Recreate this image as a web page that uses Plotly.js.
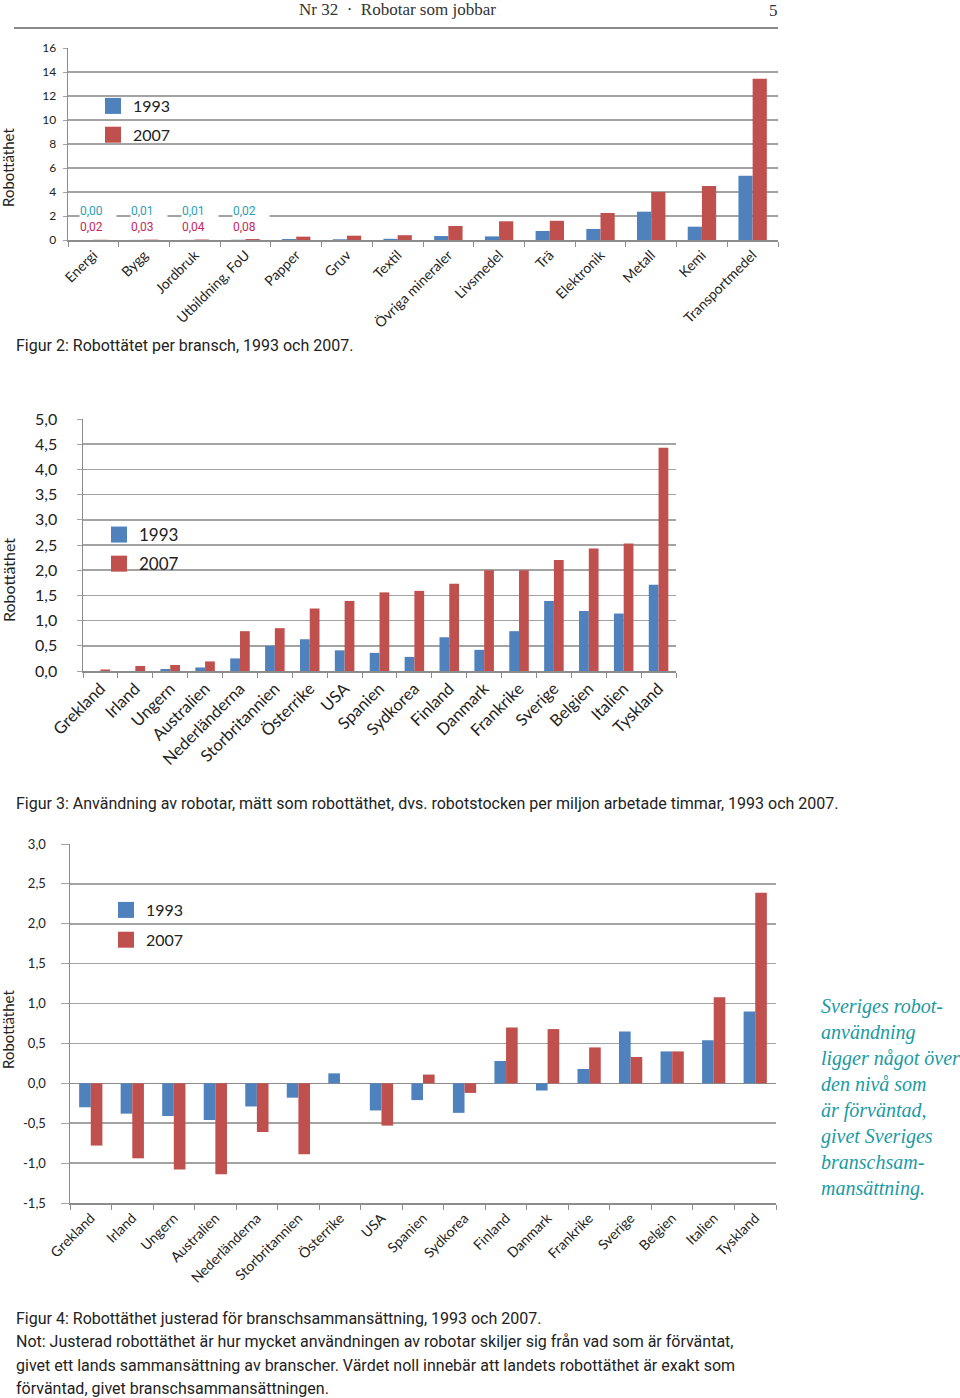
<!DOCTYPE html>
<html>
<head>
<meta charset="utf-8">
<script src="https://cdn.plot.ly/plotly-3.0.1.min.js"></script>
<style>
html,body{margin:0;padding:0;background:#fff;}
#chart{width:960px;height:1398px;}
</style>
</head>
<body>
<div id="chart"></div>
<script>
// ---------- DATA ----------
var branscher = ['Energi','Bygg','Jordbruk','Utbildning, FoU','Papper','Gruv','Textil','Övriga mineraler','Livsmedel','Trä','Elektronik','Metall','Kemi','Transportmedel'];
var bransch1993 = [0.00,0.01,0.01,0.02,0.08,0.06,0.10,0.33,0.30,0.75,0.92,2.36,1.11,5.36];
var bransch2007 = [0.02,0.03,0.04,0.08,0.28,0.36,0.40,1.17,1.56,1.60,2.25,4.00,4.50,13.44];
var labelledCount = 4; // first four branches carry value labels

var lander = ['Grekland','Irland','Ungern','Australien','Nederländerna','Storbritannien','Österrike','USA','Spanien','Sydkorea','Finland','Danmark','Frankrike','Sverige','Belgien','Italien','Tyskland'];
var tathet1993 = [0.00,0.00,0.04,0.07,0.25,0.50,0.63,0.41,0.36,0.28,0.67,0.42,0.79,1.39,1.19,1.14,1.71];
var tathet2007 = [0.03,0.10,0.12,0.19,0.79,0.85,1.24,1.39,1.56,1.59,1.73,2.00,2.00,2.20,2.43,2.53,4.43];

var justerad1993 = [-0.30,-0.38,-0.41,-0.46,-0.29,-0.18,0.125,-0.34,-0.21,-0.37,0.28,-0.09,0.18,0.65,0.40,0.54,0.90];
var justerad2007 = [-0.78,-0.94,-1.08,-1.14,-0.61,-0.89,0.00,-0.53,0.11,-0.12,0.70,0.68,0.45,0.33,0.40,1.08,2.39];

var ticks1 = [0,2,4,6,8,10,12,14,16];
var tickText1 = ['0','2','4','6','8','10','12','14','16'];
var ticks2 = [0,0.5,1,1.5,2,2.5,3,3.5,4,4.5,5];
var tickText2 = ['0,0','0,5','1,0','1,5','2,0','2,5','3,0','3,5','4,0','4,5','5,0'];
var ticks3 = [-1.5,-1,-0.5,0,0.5,1,1.5,2,2.5,3];
var tickText3 = ['-1,5','-1,0','-0,5','0,0','0,5','1,0','1,5','2,0','2,5','3,0'];

var years = ['1993','2007'];

// ---------- STYLE ----------
var W = 960, H = 1398;
var BLUE = '#4f81bd', RED = '#c0504d';
var GRID = '#a3a3a3';
var SANS = 'Lato, "Liberation Sans", sans-serif';
var CAP = 'Roboto, "Liberation Sans", sans-serif';
var SERIF = '"Liberation Serif", "DejaVu Serif", serif';
function xd(a,b){ return [a/W, b/W]; }
function yd(t,b){ return [1-b/H, 1-t/H]; }
function px(x){ return x/W; }
function py(y){ return 1-y/H; }
function fmt(v){ return v.toFixed(2).replace('.', ','); }

var traces = [];
function addBars(cats, a, b, xa, ya){
  traces.push({type:'bar', x:cats, y:a, name:years[0], marker:{color:BLUE}, xaxis:xa, yaxis:ya, showlegend:false, hoverinfo:'x+y'});
  traces.push({type:'bar', x:cats, y:b, name:years[1], marker:{color:RED}, xaxis:xa, yaxis:ya, showlegend:false, hoverinfo:'x+y'});
}
addBars(branscher, bransch1993, bransch2007, 'x', 'y');
addBars(lander, tathet1993, tathet2007, 'x2', 'y2');
addBars(lander, justerad1993, justerad2007, 'x3', 'y3');

// legend dummies
function addLegend(lg, xa, ya){
  traces.push({type:'scatter', mode:'markers', x:[null], y:[null], xaxis:xa, yaxis:ya, name:years[0], legend:lg, legendgroup:lg+'a', marker:{symbol:'square', size:16, color:BLUE}});
  traces.push({type:'scatter', mode:'markers', x:[null], y:[null], xaxis:xa, yaxis:ya, name:years[1], legend:lg, legendgroup:lg+'b', marker:{symbol:'square', size:16, color:RED}});
}
addLegend('legend','x','y');
addLegend('legend2','x2','y2');
addLegend('legend3','x3','y3');

function xAxis(dom, anchor, fs){
  return {domain:dom, anchor:anchor, type:'category', tickangle:-45, tickfont:{family:SANS, size:fs, color:'#222'},
    ticks:'outside', tickson:'boundaries', ticklen:5, tickcolor:'#8c8c8c', showline:true, linecolor:'#8c8c8c', linewidth:1.5,
    showgrid:false, zeroline:false, fixedrange:true};
}
function yAxis(dom, anchor, range, tv, tt, fs, tl, so){
  return {domain:dom, anchor:anchor, range:range, tickvals:tv, ticktext:tt, tickfont:{family:SANS, size:fs, color:'#222'},
    showgrid:true, gridcolor:GRID, gridwidth:1.5, showline:true, linecolor:'#8c8c8c', linewidth:1.5,
    ticks:'outside', ticklen:tl, tickcolor:GRID, ticklabelstandoff:so, zeroline:false, fixedrange:true};
}

var layout = {
  width:W, height:H, margin:{l:0,r:0,t:0,b:0}, paper_bgcolor:'#fff', plot_bgcolor:'#fff',
  barmode:'group', bargap:0.44, bargroupgap:0, separators:', ', showlegend:true,
  xaxis: xAxis(xd(68,778), 'y', 14),
  yaxis: yAxis(yd(48,240), 'x', [0,16], ticks1, tickText1, 12, 4, 4),
  xaxis2: xAxis(xd(83,676), 'y2', 16.5),
  yaxis2: yAxis(yd(419,671), 'x2', [0,5], ticks2, tickText2, 16, 5, 16),
  xaxis3: xAxis(xd(70,776), 'y3', 14),
  yaxis3: yAxis(yd(844,1203), 'x3', [-1.5,3], ticks3, tickText3, 13, 8, 12),
  legend: {x:px(93), y:py(89), xanchor:'left', yanchor:'top', font:{family:SANS, size:16, color:'#222'}, bgcolor:'rgba(0,0,0,0)', traceorder:'grouped', tracegroupgap:5},
  legend2:{x:px(99), y:py(517), xanchor:'left', yanchor:'top', font:{family:SANS, size:17, color:'#222'}, bgcolor:'rgba(0,0,0,0)', traceorder:'grouped', tracegroupgap:4},
  legend3:{x:px(106), y:py(893), xanchor:'left', yanchor:'top', font:{family:SANS, size:16, color:'#222'}, bgcolor:'rgba(0,0,0,0)', traceorder:'grouped', tracegroupgap:6},
  shapes: [
    {type:'line', xref:'paper', yref:'paper', x0:px(14), x1:px(778), y0:py(28), y1:py(28), line:{color:'#8a8a8a', width:2}}
  ],
  annotations: []
};

layout.yaxis3.zeroline = true;
layout.yaxis3.zerolinecolor = '#8c8c8c';
layout.yaxis3.zerolinewidth = 1.5;

var A = layout.annotations;
function txt(t, x, y, o){
  var a = {text:t, xref:'paper', yref:'paper', x:px(x), y:py(y), showarrow:false, xanchor:'left', yanchor:'middle',
    font:{family:CAP, size:16, color:'#222'}};
  for (var k in o) a[k] = o[k];
  A.push(a);
}
// header
txt('Nr 32  ·  Robotar som jobbar', 397, 10, {xanchor:'center', font:{family:SERIF, size:17, color:'#333'}});
txt('5', 773, 11, {xanchor:'center', font:{family:SERIF, size:17, color:'#333'}});
// y titles
txt('Robottäthet', 8, 168, {xanchor:'center', textangle:-90, font:{family:SANS, size:15, color:'#222'}});
txt('Robottäthet', 8, 580, {xanchor:'center', textangle:-90, font:{family:SANS, size:16, color:'#222'}});
txt('Robottäthet', 8, 1030, {xanchor:'center', textangle:-90, font:{family:SANS, size:15, color:'#222'}});
// captions
txt('Figur 2: Robottätet per bransch, 1993 och 2007.', 14, 346);
txt('Figur 3: Användning av robotar, mätt som robottäthet, dvs. robotstocken per miljon arbetade timmar, 1993 och 2007.', 14, 803);
txt('Figur 4: Robottäthet justerad för branschsammansättning, 1993 och 2007.', 14, 1318);
txt('Not: Justerad robottäthet är hur mycket användningen av robotar skiljer sig från vad som är förväntat,', 14, 1341);
txt('givet ett lands sammansättning av branscher. Värdet noll innebär att landets robottäthet är exakt som', 14, 1365);
txt('förväntad, givet branschsammansättningen.', 14, 1388);
// side note
var side = ['Sveriges robot-','användning','ligger något över','den nivå som','är förväntad,','givet Sveriges','branschsam-','mansättning.'];
for (var i=0;i<side.length;i++){
  txt(side[i], 819, 1006 + i*26, {font:{family:SERIF, size:20, color:'#1a9aa3', style:'italic'}});
}
// value labels for small branches
for (var j=0;j<labelledCount;j++){
  A.push({xref:'x', yref:'y', x:branscher[j], y:0, yanchor:'bottom', yshift:5, xanchor:'left', xshift:-14,
    showarrow:false, align:'left', width:36, bgcolor:'#ffffff', borderpad:0,
    text:'<span style="color:#2aa0b4">'+fmt(bransch1993[j])+'</span><br><span style="color:#c4285c">'+fmt(bransch2007[j])+'</span>',
    font:{family:CAP, size:12}});
}

Plotly.newPlot('chart', traces, layout, {displayModeBar:false, staticPlot:true});
</script>
</body>
</html>
